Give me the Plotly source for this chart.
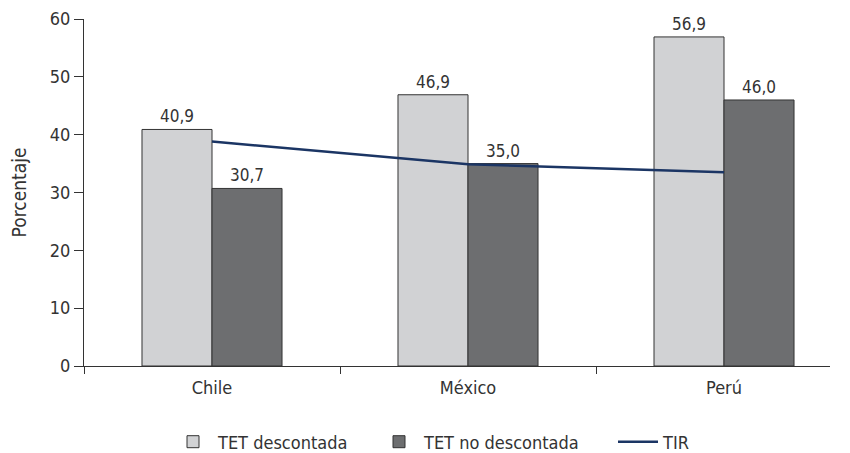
import plotly.graph_objects as go

categories = ["Chile", "México", "Perú"]
tet_descontada = [40.9, 46.9, 56.9]
tet_no_descontada = [30.7, 35.0, 46.0]
tir = [38.8, 34.9, 33.5]
y_ticks = [0, 10, 20, 30, 40, 50, 60]

FONT = "DejaVu Sans Condensed, Liberation Sans Narrow, sans-serif"
TXT = "#333333"
xpos = list(range(len(categories)))

# page body has an 8px margin on the left/top
W, H = 834, 445

fig = go.Figure()
fig.add_trace(go.Bar(
    x=xpos, y=tet_descontada, name="TET descontada", legend="legend",
    marker=dict(color="#D1D2D4", line=dict(color="#333333", width=1)),
    texttemplate="%{y:.1f}", textposition="outside", cliponaxis=False,
    textfont=dict(family=FONT, size=17, color=TXT),
))
fig.add_trace(go.Bar(
    x=xpos, y=tet_no_descontada, name="TET no descontada", legend="legend2",
    marker=dict(color="#6D6E70", line=dict(color="#333333", width=1)),
    texttemplate="%{y:.1f}", textposition="outside", cliponaxis=False,
    textfont=dict(family=FONT, size=17, color=TXT),
))
fig.add_trace(go.Scatter(
    x=xpos, y=tir, name="TIR", mode="lines", legend="legend3",
    line=dict(color="#1B3564", width=2.5),
))

leg_common = dict(orientation="h", xref="container", yref="container",
                  y=1 - 434 / H, yanchor="middle", xanchor="left",
                  font=dict(family=FONT, size=18, color=TXT),
                  bgcolor="rgba(0,0,0,0)", itemwidth=40)

fig.update_layout(
    width=W, height=H,
    margin=dict(l=76, r=12, t=11, b=87),
    plot_bgcolor="white", paper_bgcolor="white",
    separators=",.",
    barmode="group", bargap=0.453, bargroupgap=0,
    font=dict(family=FONT, size=18, color=TXT),
    showlegend=True,
    legend=dict(x=160 / W, **leg_common),
    legend2=dict(x=366 / W, **leg_common),
    legend3=dict(x=605 / W, **leg_common),
    xaxis=dict(
        range=[-0.5, 2.414], showgrid=False, zeroline=False, automargin=False,
        showline=True, linecolor="#333333", linewidth=1,
        tickvals=xpos, ticktext=categories, ticks="", ticklen=0,
        ticklabelstandoff=5,
        tickfont=dict(family=FONT, size=18, color=TXT),
        minor=dict(tickvals=[-0.5, 0.5, 1.5], ticks="outside", ticklen=7,
                   tickcolor="#333333", tickwidth=1, showgrid=False),
    ),
    yaxis=dict(
        range=[0, 60], tickvals=y_ticks, showgrid=False, zeroline=False, automargin=False,
        showline=True, linecolor="#333333", linewidth=1,
        ticks="outside", ticklen=9, tickcolor="#333333",
        ticklabeloverflow="allow",
        tickfont=dict(family=FONT, size=18, color=TXT),
        title=dict(text="Porcentaje", font=dict(family=FONT, size=19, color=TXT), standoff=26),
    ),
)

fig.write_html("out.html")
